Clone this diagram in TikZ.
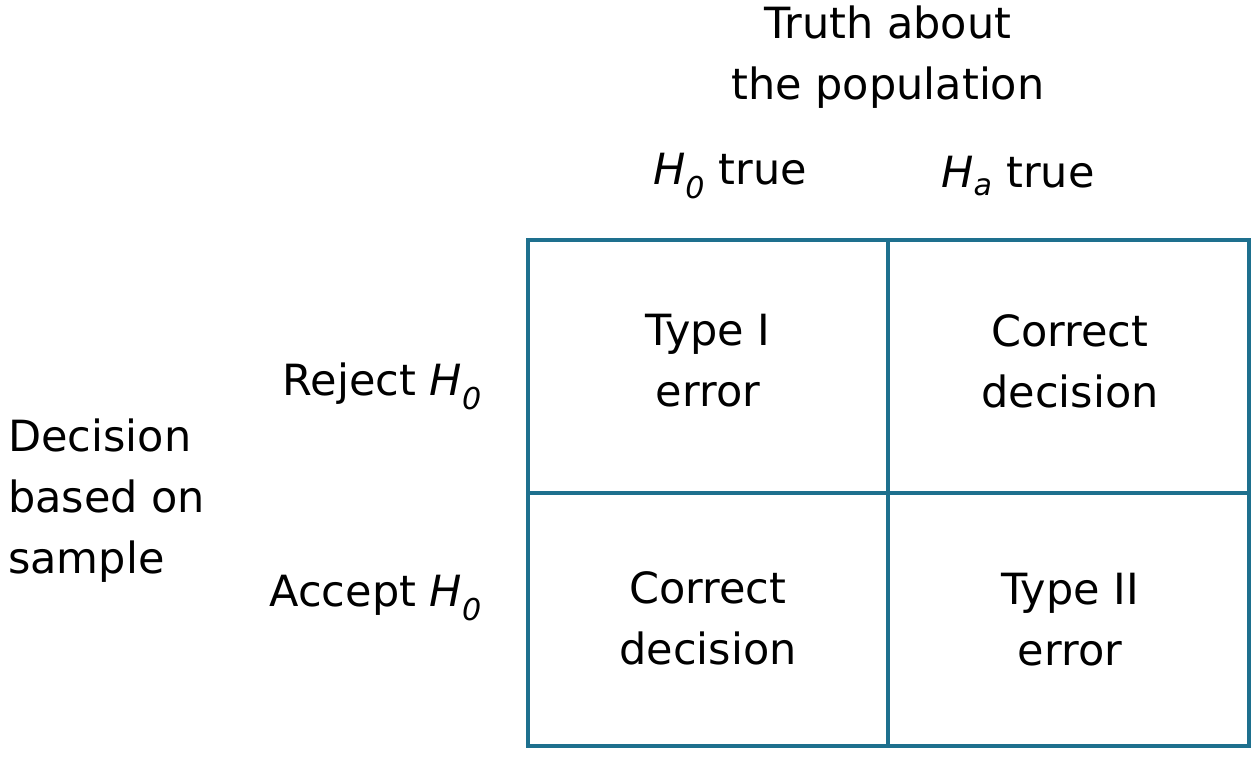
\documentclass[tikz,border=0pt]{standalone}
\usepackage{fontspec}
\setmainfont{DejaVu Sans}
\definecolor{gridblue}{RGB}{30,112,142}
\newcommand{\Hsub}[1]{\textit{H}\textsubscript{\textit{#1}}}
\begin{document}
\begin{tikzpicture}[x=1pt,y=-1pt,
  lbl/.style={font=\fontsize{43}{61}\selectfont, text=black, inner sep=0pt, align=center},
  gridline/.style={draw=gridblue, line width=4pt}]
\useasboundingbox (0,0) rectangle (1258,756);
% grid
\coordinate (tl) at (528,240);
\coordinate (br) at (1249,746);
\coordinate (tm) at (888,240);
\coordinate (bm) at (888,746);
\coordinate (ml) at (528,493);
\coordinate (mr) at (1249,493);
\draw[gridline] (tl) rectangle (br);
\draw[gridline] (tm) -- (bm);
\draw[gridline] (ml) -- (mr);
% headings
\node[lbl] (truth) at (888,57) {Truth about\\the population};
\node[lbl] (h0) at (730,176) {\Hsub{0} true};
\node[lbl] (ha) at (1018,176) {\Hsub{a} true};
% cells
\node[lbl] (c11) at (708,361) {Type I\\error};
\node[lbl] (c12) at (1070,361) {Correct\\decision};
\node[lbl] (c21) at (708,618) {Correct\\decision};
\node[lbl] (c22) at (1070,620) {Type II\\error};
% row labels
\node[lbl, anchor=east] (rej) at (482,386) {Reject \Hsub{0}};
\node[lbl, anchor=east] (acc) at (482,598) {Accept \Hsub{0}};
\node[lbl, anchor=west, align=left] (dec) at (8,501) {Decision\\based on\\sample};
\end{tikzpicture}
\end{document}
